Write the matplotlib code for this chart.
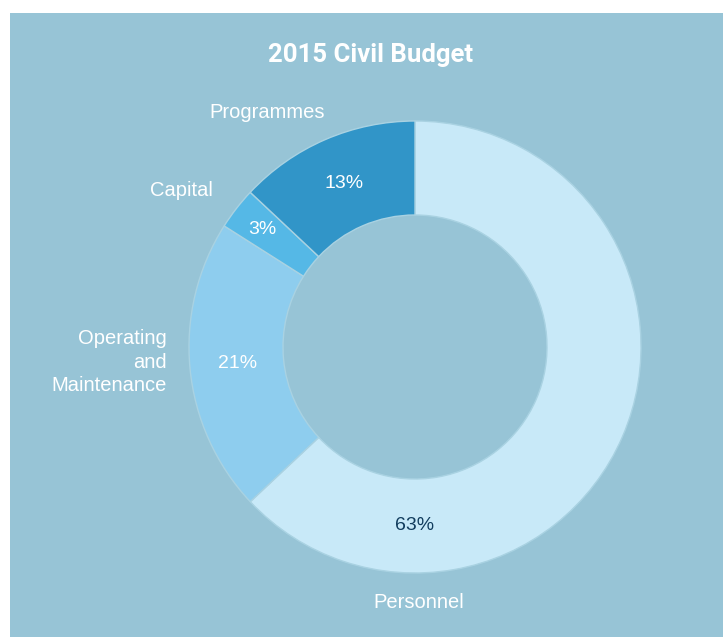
import matplotlib.pyplot as plt
from matplotlib.patches import Rectangle

# Data
categories = ['Personnel', 'Operating\nand\nMaintenance', 'Capital', 'Programmes']
shares = [63, 21, 3, 13]
colors = ['#C8E9F8', '#8ECDEE', '#55B8E6', '#3195C8']
pct_colors = ['#123D5E', 'white', 'white', 'white']

W, H = 723, 637
fig = plt.figure(figsize=(W / 100, H / 100), dpi=100)
fig.patch.set_facecolor('white')
ax = fig.add_axes([0, 0, 1, 1])

# panel background
ax.add_patch(Rectangle((10, 0), W - 10, H - 13, facecolor='#97C4D6', edgecolor='none', zorder=0))

cx, cy, r = 415, H - 347, 226
wedges, texts, autotexts = ax.pie(
    shares, colors=colors, startangle=90, counterclock=False,
    center=(cx, cy), radius=r, autopct='%d%%', pctdistance=0.79,
    wedgeprops=dict(width=r - 132, edgecolor='#A9D2E2', linewidth=1),
    textprops=dict(fontsize=14, family='Liberation Sans'))
for t, c in zip(autotexts, pct_colors):
    t.set_color(c)
# hand-placed like the original
autotexts[0].set_position((cx, H - 526))
autotexts[2].set_position((262, H - 229))

# pie() resets the limits, so set them afterwards
ax.set_xlim(0, W)
ax.set_ylim(0, H)
ax.set_aspect('equal', adjustable='datalim')
ax.axis('off')

# outer labels
label_pos = [(419, H - 602, 'center'), (167, H - 362, 'right'),
             (213, H - 190, 'right'), (325, H - 113, 'right')]
for name, (x, y, ha) in zip(categories, label_pos):
    ax.text(x, y, name, ha=ha, va='center', fontsize=14.5, color='white',
            family='Liberation Sans', linespacing=1.3, multialignment='right')

ax.text(371, H - 55, '2015 Civil Budget', ha='center', va='center', fontsize=18.5,
        fontweight='bold', color='white', family='Roboto')

fig.savefig('out.png', dpi=100, facecolor=fig.get_facecolor())
